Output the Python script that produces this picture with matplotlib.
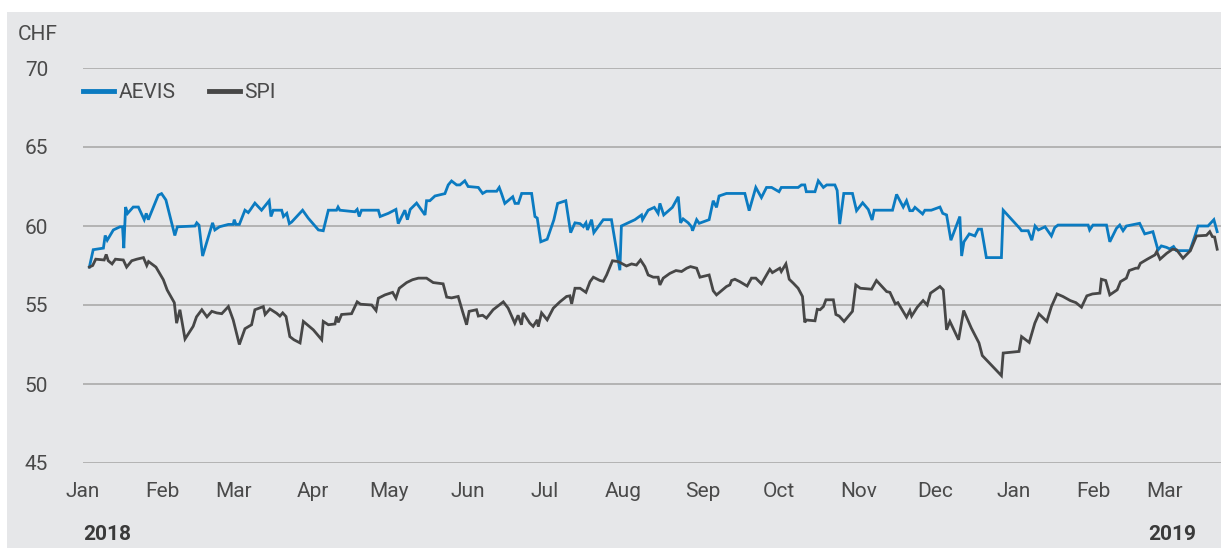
import datetime
import numpy as np
import matplotlib
matplotlib.use("Agg")
import matplotlib.pyplot as plt
import matplotlib.dates as mdates
from matplotlib.patches import Rectangle

# ---- data: days since 2018-01-01 and closing values (CHF, rebased) ----
aevis_days = [2.5, 4, 8, 8.7, 9.5, 11.9, 14.5, 15.5, 16, 16.7, 17.5, 19.7, 21.7, 24, 24.8, 25.6, 29.5, 30.8, 32.5,
              36, 37, 43.9, 44.6, 45.5, 46.9, 50.8, 51.7, 53.5, 57, 58.9, 59.3, 60, 61.3, 63.5, 64.8, 65.7, 67.4,
              70, 73, 73.7, 74.6, 77.9, 78.6, 79.9, 80.9, 81.8, 86.1, 88.3, 92.3, 94.2, 96.2, 99.4, 100, 100.7,
              106.6, 107.5, 108.3, 109.2, 115.8, 116.5, 119.7, 122.7, 123.6, 126.2, 127.2, 128.3, 130.8, 134.1,
              134.7, 136, 138, 141.9, 143.2, 144.5, 146.5, 147.8, 149.7, 151, 155, 156.7, 158.2, 162.2, 163.2,
              164.1, 165.4, 168.5, 169.4, 170.7, 172, 175.9, 177.2, 178.1, 179.5, 182, 184.6, 186.1, 189.3, 191.2,
              192.9, 194.9, 196.2, 197.2, 197.8, 199.4, 200.3, 204, 207.2, 210.5, 211.1, 213.8, 216.4, 219, 219.4,
              221.6, 224, 225.5, 226.2, 227.7, 231.1, 233.4, 234.3, 235.3, 237.3, 238.6, 239, 240.6, 241.6, 245.5,
              247.1, 248.4, 249.4, 252.3, 259.5, 261.2, 263.8, 266, 268, 270, 272.9, 273.8, 280.4, 281.7, 283,
              283.6, 287, 288.3, 290.3, 291.6, 294.8, 295.7, 296.7, 298.3, 301.7, 303.3, 305.7, 307.9, 309.4,
              310.2, 317.4, 319, 321.6, 322.9, 324.2, 325.3, 326.2, 329.2, 330.1, 332.6, 336, 337.1, 338.6, 340.3,
              342.3, 343.8, 344.5, 345.4, 347.5, 349.7, 351, 352.3, 354.2, 360.1, 360.8, 367.3, 368, 370.6, 372,
              373.3, 374.6, 377.2, 379.7, 381, 382.3, 394.1, 394.7, 396, 401.3, 402.6, 405.2, 406.5, 407.8, 409.1,
              414.3, 416.3, 419.5, 421.5, 422.8, 424.8, 426.1, 427.6, 428.7, 434, 435.9, 437.2, 441.1, 443.4, 444.7]
aevis_vals = [57.4, 58.5, 58.6, 59.4, 59.1, 59.75, 59.95, 59.95, 58.6, 61.2, 60.8, 61.2, 61.2, 60.4, 60.8, 60.4, 61.95,
              62.05, 61.65, 59.4, 59.95, 60.0, 60.2, 60.05, 58.1, 60.2, 59.75, 59.95, 60.1, 60.1, 60.4, 60.1, 60.1,
              61.0, 60.85, 61.05, 61.45, 61.0, 61.6, 60.6, 61.0, 61.0, 60.6, 60.8, 60.15, 60.25, 61.0, 60.5, 59.75,
              59.7, 61.0, 61.0, 61.2, 61.0, 60.9, 61.05, 60.6, 61.0, 61.0, 60.6, 60.8, 61.05, 60.15, 61.0, 60.4,
              61.05, 61.45, 60.7, 61.6, 61.6, 61.9, 62.05, 62.6, 62.85, 62.6, 62.6, 62.86, 62.5, 62.44, 62.06, 62.2,
              62.2, 62.44, 62.05, 61.43, 61.85, 61.43, 61.43, 62.06, 62.06, 60.6, 60.5, 59.0, 59.16, 60.38, 61.43,
              61.6, 59.58, 60.2, 60.15, 59.96, 60.2, 59.75, 60.4, 59.58, 60.4, 60.4, 57.2, 60.0, 60.2, 60.4, 60.7,
              60.4, 61.0, 61.18, 60.8, 61.43, 60.7, 61.18, 61.85, 60.2, 60.45, 60.2, 59.95, 59.7, 60.4, 60.17, 60.4,
              61.6, 61.18, 61.9, 62.06, 62.06, 60.97, 62.44, 61.8, 62.44, 62.44, 62.17, 62.44, 62.44, 62.6, 62.6,
              62.17, 62.17, 62.86, 62.44, 62.6, 62.6, 62.25, 60.12, 62.06, 62.06, 60.97, 61.47, 61.05, 60.38, 61.0,
              61.0, 62.0, 61.2, 61.6, 60.97, 60.97, 61.18, 60.76, 61.0, 61.0, 61.2, 60.8, 60.7, 59.1, 59.96, 60.6,
              58.1, 59.0, 59.5, 59.37, 59.8, 59.8, 58.0, 58.0, 61.0, 59.85, 59.7, 59.7, 59.1, 60.0, 59.75, 59.95,
              59.37, 59.9, 60.06, 60.06, 59.75, 60.06, 60.06, 59.0, 59.85, 60.06, 59.7, 60.0, 60.17, 59.5, 59.64,
              58.48, 58.74, 58.65, 58.55, 58.7, 58.44, 58.44, 59.33, 60.0, 60.0, 60.4, 59.64]

spi_days = [2.5, 3.8, 5, 8.3, 9.1, 9.9, 11.4, 12.7, 15.8, 17.1, 19.1, 21.1, 23.7, 25, 25.7, 28.6, 31.5, 33, 35.8, 36.7,
            38, 40, 43.2, 44.5, 46.6, 48.6, 50.5, 52.4, 54.4, 57, 58.9, 61.3, 63.5, 66.1, 67.4, 70.7, 71.4, 73.3,
            75.9, 77.2, 78.3, 79.6, 81.1, 82.7, 85.1, 86.4, 90.3, 93.6, 94.2, 96.2, 98.8, 99.4, 100.1, 101.4, 105.3,
            107.5, 108.8, 113.2, 114.9, 115.8, 118.4, 121.4, 122.7, 124, 126.9, 129.2, 131.5, 134.7, 137.3, 141.2,
            142.6, 144.5, 147.1, 148.8, 150.4, 151.4, 154.3, 155, 156.7, 158.2, 160.8, 164.8, 166.7, 169.3, 170.6,
            171.9, 172.6, 175.2, 176.5, 178.1, 178.5, 179.8, 182, 184.4, 187, 189.6, 190.9, 191.6, 192.9, 194.9,
            197.2, 198.8, 200.1, 202.7, 204, 205.3, 207.6, 209.8, 213.1, 215.1, 217, 218.6, 220.3, 221.6, 223.6,
            225.5, 226.2, 227.5, 230.1, 232.5, 234.7, 236.7, 238.2, 240.6, 241.9, 245.5, 247.1, 248.4, 252.3, 253.6,
            254.3, 255.6, 257.5, 260.4, 262.1, 263.8, 266, 269.3, 270.3, 273.2, 273.8, 275.6, 276.9, 278.5, 280.4,
            282.1, 283, 283.6, 287, 287.9, 289, 290.3, 291.3, 294.2, 295.2, 296.5, 298.4, 301.7, 303, 304.8, 309.2,
            311.1, 315.1, 316.4, 318.5, 319.5, 322.9, 324.2, 324.9, 327.1, 329.4, 331, 332.3, 336, 337.3, 338.6,
            339.9, 343.3, 345.3, 348.3, 351.3, 352.6, 360.1, 360.8, 367, 368, 371, 373.2, 374.8, 377.9, 379.7, 381.9,
            384.2, 387.1, 389.3, 391.5, 393.6, 395.8, 398.7, 399.3, 401, 402.6, 405.5, 406.8, 409.1, 410.2, 412.8,
            413.7, 414.6, 417.3, 420.3, 421, 422.3, 424.9, 427.2, 428.8, 431.3, 434.2, 436.6, 440.5, 441.8, 442.8,
            443.7, 444.7]
spi_vals = [57.4, 57.5, 57.9, 57.85, 58.2, 57.8, 57.6, 57.9, 57.85, 57.4, 57.8, 57.9, 58.0, 57.5, 57.75, 57.4, 56.6,
            55.95, 55.15, 53.85, 54.7, 52.85, 53.65, 54.25, 54.7, 54.25, 54.6, 54.5, 54.45, 54.9, 54.05, 52.5, 53.5,
            53.75, 54.7, 54.9, 54.4, 54.75, 54.48, 54.3, 54.5, 54.27, 53.0, 52.8, 52.6, 53.96, 53.43, 52.8, 53.96,
            53.75, 53.8, 54.27, 53.9, 54.4, 54.45, 55.2, 55.05, 55.0, 54.65, 55.43, 55.64, 55.8, 55.43, 56.06, 56.42,
            56.6, 56.7, 56.7, 56.42, 56.34, 55.5, 55.45, 55.54, 54.6, 53.75, 54.6, 54.7, 54.3, 54.35, 54.17, 54.7,
            55.2, 54.8, 53.85, 54.35, 53.75, 54.5, 53.85, 53.65, 54.06, 53.64, 54.5, 54.06, 54.8, 55.2, 55.54, 55.58,
            55.07, 56.06, 56.06, 55.8, 56.48, 56.76, 56.55, 56.5, 56.9, 57.8, 57.75, 57.47, 57.6, 57.53, 57.85, 57.43,
            56.9, 56.76, 56.76, 56.27, 56.7, 57.0, 57.18, 57.12, 57.33, 57.43, 57.33, 56.76, 56.9, 55.9, 55.64, 56.17,
            56.27, 56.55, 56.63, 56.48, 56.2, 56.7, 56.7, 56.34, 57.26, 57.05, 57.33, 57.12, 57.6, 56.63, 56.38, 56.06,
            55.54, 53.9, 54.05, 54.0, 54.73, 54.7, 54.9, 55.33, 55.33, 54.4, 54.3, 53.96, 54.6, 56.27, 56.06, 56.0,
            56.55, 55.85, 55.8, 55.07, 55.15, 54.23, 54.65, 54.3, 54.86, 55.28, 55.0, 55.75, 56.17, 55.96, 53.43,
            53.96, 52.8, 54.65, 53.54, 52.6, 51.8, 50.53, 51.96, 52.06, 53.0, 52.63, 53.85, 54.44, 53.96, 54.9, 55.7,
            55.54, 55.28, 55.15, 54.86, 55.58, 55.7, 55.75, 56.63, 56.55, 55.64, 55.96, 56.48, 56.7, 57.18, 57.33,
            57.33, 57.64, 57.9, 58.17, 58.38, 57.9, 58.27, 58.53, 58.49, 57.96, 58.44, 59.37, 59.41, 59.64, 59.33,
            59.3, 58.53]

series_names = ["AEVIS", "SPI"]
y_ticks = [45, 50, 55, 60, 65, 70]
year_labels = ["2018", "2019"]
unit_label = "CHF"

# ---- style ----
BLUE = "#0b7bc1"
DARK = "#474747"
BG = "#e6e7e9"
GRID = "#b3b3b3"
TXT = "#4a4a4a"
FONT = ["Roboto", "DejaVu Sans"]
plt.rcParams["font.family"] = FONT
FS = 15

W, H = 1221, 548
fig = plt.figure(figsize=(W / 100, H / 100), dpi=100, facecolor="white")
bg = Rectangle((7 / W, 0), 1 - 7 / W, 1 - 12 / H, transform=fig.transFigure,
               facecolor=BG, edgecolor="none", zorder=-10)
fig.add_artist(bg)

ax = fig.add_axes([83 / W, 1 - 463 / H, 1 - 83 / W, (463 - 68) / H])
ax.set_facecolor("none")
ax.set_zorder(1)

base = mdates.date2num(datetime.date(2018, 1, 1))
xa = base + np.array(aevis_days)
xs = base + np.array(spi_days)

ax.plot(xa, aevis_vals, color=BLUE, lw=2.0, solid_joinstyle="miter", label=series_names[0], zorder=3)
ax.plot(xs, spi_vals, color=DARK, lw=2.0, solid_joinstyle="miter", label=series_names[1], zorder=3)

ax.set_xlim(base, base + 446.2)
ax.set_ylim(45, 70)
ax.set_yticks(y_ticks)
ax.yaxis.grid(True, color=GRID, lw=1.4)
ax.set_axisbelow(True)
for s in ax.spines.values():
    s.set_visible(False)
ax.tick_params(axis="y", length=0, pad=25, labelsize=FS, labelcolor=TXT)

ax.xaxis.set_major_locator(mdates.MonthLocator())
ax.xaxis.set_major_formatter(mdates.DateFormatter("%b"))
ax.xaxis.set_minor_locator(mdates.MonthLocator(bymonth=[1, 3, 5, 7, 9, 11]))
ax.tick_params(axis="x", which="major", length=0, pad=14, labelsize=FS, labelcolor=TXT)
ax.tick_params(axis="x", which="minor", length=8, width=1.4, color=GRID, direction="out")

leg = ax.legend(loc="center left", bbox_to_anchor=(83 / W, 1 - 93 / H), bbox_transform=fig.transFigure,
                ncol=2, frameon=False, fontsize=FS, handlelength=1.5, handletextpad=0.2,
                columnspacing=1.6, borderpad=0, borderaxespad=0)
for t in leg.get_texts():
    t.set_color(TXT)
for h in leg.get_lines():
    h.set_linewidth(3.5)

fig.text(58 / W, 1 - 35 / H, unit_label, ha="right", va="center", fontsize=FS, color=TXT)
fig.text(83 / W, 1 - 535 / H, year_labels[0], ha="left", va="center", fontsize=FS, color="#3a3a3a",
         fontweight="bold")
fig.text(1196 / W, 1 - 535 / H, year_labels[1], ha="right", va="center", fontsize=FS, color="#3a3a3a",
         fontweight="bold")

fig.savefig("out.png", dpi=100, facecolor="white")
